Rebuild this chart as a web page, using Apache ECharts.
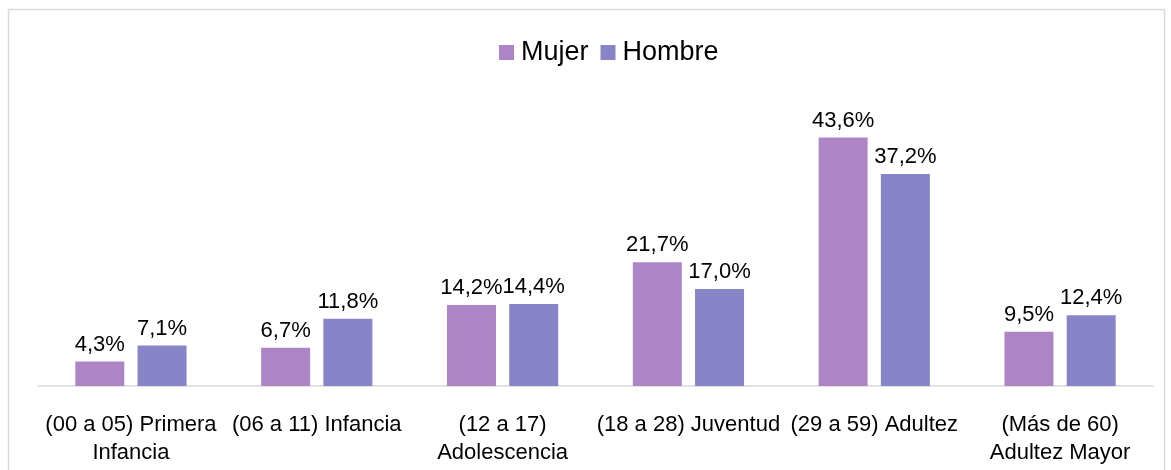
<!DOCTYPE html>
<html>
<head>
<meta charset="utf-8">
<script src="https://cdn.jsdelivr.net/npm/echarts@6/dist/echarts.min.js"></script>
<style>
html, body { margin: 0; padding: 0; background: #fff; }
#main { width: 1171px; height: 470px; }
</style>
</head>
<body>
<div id="main"></div>
<script>
var categories = ['(00 a 05) Primera\nInfancia', '(06 a 11) Infancia', '(12 a 17)\nAdolescencia',
	'(18 a 28) Juventud', '(29 a 59) Adultez', '(Más de 60)\nAdultez Mayor'];
var mujer = [4.3, 6.7, 14.2, 21.7, 43.6, 9.5];
var hombre = [7.1, 11.8, 14.4, 17.0, 37.2, 12.4];

var myChart = echarts.init(document.getElementById('main'));

function pct(p) {
	return p.value.toFixed(1).replace('.', ',') + '%';
}

var labelStyle = {
	show: true,
	position: 'top',
	distance: 6,
	color: '#000',
	fontSize: 22,
	fontFamily: 'Liberation Sans',
	formatter: pct
};

var option = {
	backgroundColor: '#fff',
	graphic: [{
		type: 'rect',
		shape: { x: 8.5, y: 9.5, width: 1156, height: 470 },
		style: { fill: 'none', stroke: '#d9d9d9', lineWidth: 1.5 },
		silent: true
	}],
	legend: {
		top: 34,
		left: 494,
		itemWidth: 15,
		itemHeight: 15,
		itemGap: 12,
		icon: 'rect',
		textStyle: { fontSize: 27, color: '#000', fontFamily: 'Liberation Sans', padding: [0, 0, 0, 2] },
		data: ['Mujer', 'Hombre']
	},
	grid: { left: 38, right: 18, top: 101, bottom: 84 },
	xAxis: {
		type: 'category',
		data: categories,
		axisTick: { show: false },
		axisLine: { lineStyle: { color: '#d9d9d9', width: 1.5 } },
		axisLabel: {
			interval: 0,
			margin: 25,
			color: '#000',
			fontSize: 22,
			lineHeight: 28,
			fontFamily: 'Liberation Sans'
		}
	},
	yAxis: {
		type: 'value',
		show: false,
		min: 0,
		max: 50
	},
	series: [{
		name: 'Mujer',
		type: 'bar',
		data: mujer,
		barWidth: 49,
		barGap: '27%',
		itemStyle: { color: '#ad84c6' },
		label: labelStyle
	}, {
		name: 'Hombre',
		type: 'bar',
		data: hombre,
		barWidth: 49,
		itemStyle: { color: '#8785c7' },
		label: labelStyle
	}]
};
myChart.setOption(option);
</script>
</body>
</html>
